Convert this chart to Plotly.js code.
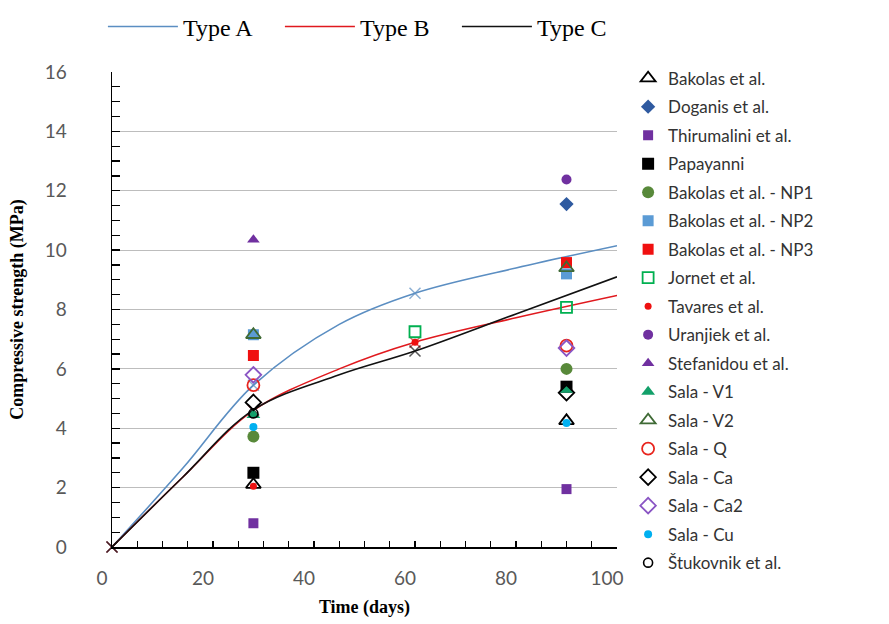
<!DOCTYPE html>
<html>
<head>
<meta charset="utf-8">
<script src="https://cdn.plot.ly/plotly-3.0.1.min.js"></script>
<style>html,body{margin:0;padding:0;background:#fff;}#chart{width:889px;height:624px;}</style>
</head>
<body>
<div id="chart"></div>
<script>
// ---- curve data (days, MPa) ----
const curveDays = [0, 14, 28, 45, 60, 80, 100];
const typeA = [0, 2.65, 5.45, 7.5, 8.55, 9.4, 10.15];
const typeB = [0, 2.35, 4.6, 6.0, 6.9, 7.72, 8.47];
const typeC = [0, 2.35, 4.62, 5.8, 6.6, 7.85, 9.1];
const curveNames = ['Type A', 'Type B', 'Type C'];

// ---- experimental data ----
const bakolasX = [28, 90],      bakolasY = [2.1, 4.25];
const doganisX = [90],          doganisY = [11.55];
const thirumaliniX = [28, 90],  thirumaliniY = [0.8, 1.95];
const papayanniX = [28, 90],    papayanniY = [2.5, 5.4];
const np1X = [28, 90],          np1Y = [3.72, 6.0];
const np2X = [28, 90],          np2Y = [7.15, 9.2];
const np3X = [28, 90],          np3Y = [6.45, 9.58];
const jornetX = [60, 90],       jornetY = [7.25, 8.07];
const tavaresX = [28, 60],      tavaresY = [2.05, 6.9];
const uranjiekX = [90],         uranjiekY = [12.38];
const stefanidouX = [28],       stefanidouY = [10.35];
const salaV1X = [28, 90],       salaV1Y = [4.45, 5.3];
const salaV2X = [28, 90],       salaV2Y = [7.15, 9.4];
const salaQX = [28, 90],        salaQY = [5.45, 6.78];
const salaCaX = [28, 90],       salaCaY = [4.87, 5.2];
const salaCa2X = [28, 90],      salaCa2Y = [5.8, 6.7];
const salaCuX = [28, 90],       salaCuY = [4.04, 4.18];
const stukovnikX = [28],        stukovnikY = [4.5];

const xTickVals = [0, 20, 40, 60, 80, 100];
const yTickVals = [0, 2, 4, 6, 8, 10, 12, 14, 16];

const curveColors = ['#5b8ec2', '#e0191e', '#111111'];
const curveMarkerSizes = [11, 0, 11, 0, 11, 0, 0];

const traces = [];
[typeA, typeB, typeC].forEach((ys, i) => {
  traces.push({
    type: 'scatter', mode: 'lines', x: curveDays, y: ys, name: curveNames[i],
    line: {color: curveColors[i], width: 1.6, shape: 'spline', smoothing: 1.0},
    cliponaxis: false, legend: 'legend', hoverinfo: 'x+y'
  });
  traces.push({
    type: 'scatter', mode: 'markers', x: curveDays, y: ys, name: curveNames[i], showlegend: false,
    marker: {symbol: 'x-thin', size: curveMarkerSizes, line: {color: curveColors[i], width: 1.5}, color: curveColors[i]},
    cliponaxis: false, hoverinfo: 'x+y'
  });
});

function pts(name, xs, ys, symbol, color, size, lineW) {
  const open = symbol.endsWith('-open');
  return {
    type: 'scatter', mode: 'markers', x: xs, y: ys, name: name, legend: 'legend2',
    legendgroup: name, cliponaxis: false,
    marker: open ? {symbol: symbol, size: size, color: color, line: {color: color, width: lineW || 1.6}}
                 : {symbol: symbol, size: size, color: color, line: {width: 0}}
  };
}

traces.push(pts('Bakolas et al.', bakolasX, bakolasY, 'triangle-up-open', '#000000', 13, 1.8));
traces.push(pts('Doganis et al.', doganisX, doganisY, 'diamond', '#2f5aa0', 11));
traces.push(pts('Thirumalini et al.', thirumaliniX, thirumaliniY, 'square', '#7030a0', 10));
traces.push(pts('Papayanni', papayanniX, papayanniY, 'square', '#000000', 12));
traces.push(pts('Bakolas et al. - NP1', np1X, np1Y, 'circle', '#58893a', 12));
traces.push(pts('Bakolas et al. - NP2', np2X, np2Y, 'square', '#5b9bd5', 11));
traces.push(pts('Bakolas et al. - NP3', np3X, np3Y, 'square', '#f01010', 11));
traces.push(pts('Jornet et al.', jornetX, jornetY, 'square-open', '#00b050', 11, 1.8));
traces.push(pts('Tavares et al.', tavaresX, tavaresY, 'circle', '#ee1111', 7));
traces.push(pts('Uranjiek et al.', uranjiekX, uranjiekY, 'circle', '#7030a0', 10));
traces.push(pts('Stefanidou et al.', stefanidouX, stefanidouY, 'triangle-up', '#7030a0', 11));
traces.push(pts('Sala - V1', salaV1X, salaV1Y, 'triangle-up', '#13a06a', 12));
traces.push(pts('Sala - V2', salaV2X, salaV2Y, 'triangle-up-open', '#3f6a35', 13, 1.8));
traces.push(pts('Sala - Q', salaQX, salaQY, 'circle-open', '#e8251e', 12, 1.8));
traces.push(pts('Sala - Ca', salaCaX, salaCaY, 'diamond-open', '#000000', 12, 1.8));
traces.push(pts('Sala - Ca2', salaCa2X, salaCa2Y, 'diamond-open', '#8a55c4', 12, 1.8));
traces.push(pts('Sala - Cu', salaCuX, salaCuY, 'circle', '#00b0f0', 8));
traces.push(pts('Štukovnik et al.', stukovnikX, stukovnikY, 'circle-open', '#000000', 9, 1.6));

const tickFont = {family: 'Lato, "Open Sans", sans-serif', size: 19, color: '#595959'};
const titleFont = {family: '"Liberation Serif", "Times New Roman", serif', size: 18, color: '#000', weight: 'bold'};

const layout = {
  width: 889, height: 624,
  margin: {l: 112, r: 272, t: 72, b: 77, pad: 0, autoexpand: false},
  paper_bgcolor: '#fff', plot_bgcolor: '#fff',
  showlegend: true,
  xaxis: {
    range: [0, 100], tickvals: xTickVals, ticks: 'inside', ticklen: 6, tickwidth: 1.3, tickcolor: '#000',
    minor: {dtick: 5, ticks: 'inside', ticklen: 6, tickwidth: 1.3, tickcolor: '#000', showgrid: false},
    showline: true, linecolor: '#000', linewidth: 1.5, showgrid: false, zeroline: false,
    tickfont: tickFont, ticklabelshift: -10, ticklabelstandoff: 14,
    title: {text: 'Time (days)', font: titleFont, standoff: 12}
  },
  yaxis: {
    range: [0, 16], tickvals: yTickVals, ticks: 'inside', ticklen: 8, tickwidth: 1.3, tickcolor: '#000',
    minor: {dtick: 0.5, ticks: 'inside', ticklen: 8, tickwidth: 1.3, tickcolor: '#000', showgrid: false},
    showline: true, linecolor: '#000', linewidth: 1.5, showgrid: true, gridcolor: '#bdbdbd', gridwidth: 1,
    zeroline: false, tickfont: tickFont, ticklabelstandoff: 40,
    title: {text: 'Compressive strength (MPa)', font: titleFont, standoff: 16}
  },
  legend: {
    orientation: 'h', x: -0.018, xanchor: 'left', y: 1.095, yanchor: 'middle',
    font: {family: '"Liberation Serif", "Times New Roman", serif', size: 24, color: '#000'},
    itemwidth: 70, entrywidth: 92, bgcolor: 'rgba(0,0,0,0)'
  },
  legend2: {
    x: 1.022, xanchor: 'left', y: 1.024, yanchor: 'top', maxheight: 610,
    font: {family: 'Lato, "Open Sans", sans-serif', size: 17, color: '#333'},
    traceorder: 'grouped', tracegroupgap: 3.4, bgcolor: 'rgba(0,0,0,0)'
  }
};

Plotly.newPlot('chart', traces, layout, {displayModeBar: false, staticPlot: true});
</script>
</body>
</html>
